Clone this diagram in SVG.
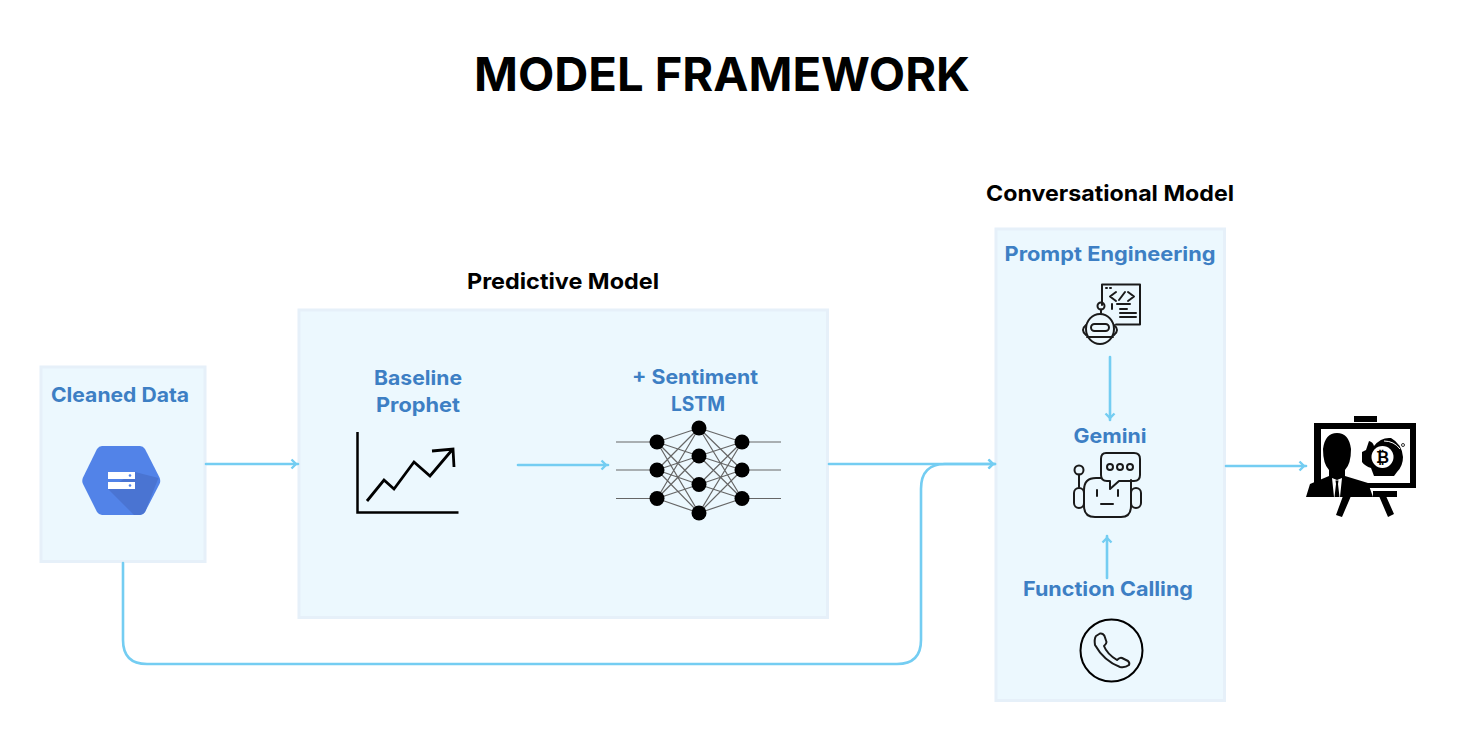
<svg xmlns="http://www.w3.org/2000/svg" width="1458" height="734" viewBox="0 0 1458 734">
<style>
text{font-family:Inter,"Liberation Sans",Arial,sans-serif;font-weight:700;text-anchor:middle}
.h{fill:#000;font-size:22px}
.l{fill:#3d7fc4;font-size:20px}
.box{fill:#ecf8fe;stroke:#e6f0f9;stroke-width:3}
.c{fill:none;stroke:#74cdf2;stroke-width:2.600;stroke-linecap:round;stroke-linejoin:round}
.i{fill:none;stroke:#1a1a1a;stroke-width:2;stroke-linecap:round;stroke-linejoin:round}
.n{stroke:#666;stroke-width:1.200}
</style>
<defs>
<marker id="a" markerUnits="userSpaceOnUse" markerWidth="14" markerHeight="12" refX="11.500" refY="6" orient="auto"><path d="M5 1.500L9.500 6L5 10.500" fill="none" stroke="#74cdf2" stroke-width="2.400"/></marker>
</defs>
<rect width="1458" height="734" fill="#fff"/>
<text id="title" x="722" y="91" font-size="47" fill="#000" textLength="496" lengthAdjust="spacingAndGlyphs">MODEL FRAMEWORK</text>

<g id="cleaned-data">
<rect class="box" x="41" y="367" width="164" height="194.500"/>
<text class="l" x="120" y="402" textLength="138" lengthAdjust="spacingAndGlyphs">Cleaned Data</text>
<path d="M102 446H140Q143 446 145 449L159.500 477.500Q161 481 159.500 484L145 512Q143 515 140 515H102Q99 515 97 512L83 484Q81.500 481 83 477.500L97 449Q99 446 102 446Z" fill="#5283e8"/>
<path d="M135 472L158.500 478L145 512Q143 515 140 515H134L108 489Z" fill="#4a74d2"/>
<rect x="108" y="472" width="27" height="7" fill="#fff"/>
<rect x="108" y="482" width="27" height="7" fill="#fff"/>
<circle cx="130" cy="475.500" r="1.300" fill="#5283e8"/>
<circle cx="130" cy="485.500" r="1.300" fill="#5283e8"/>
</g>

<g id="predictive-model">
<text class="h" x="563" y="289" textLength="192" lengthAdjust="spacingAndGlyphs">Predictive Model</text>
<rect class="box" x="299" y="310" width="528.500" height="307.500"/>
</g>

<g id="baseline-prophet">
<text class="l" x="418" y="385" textLength="88" lengthAdjust="spacingAndGlyphs">Baseline</text>
<text class="l" x="418" y="412" textLength="84" lengthAdjust="spacingAndGlyphs">Prophet</text>
<path d="M357.500 432V512.500H458.500" fill="none" stroke="#000" stroke-width="2.500"/>
<path d="M367 501L384 480L394 489L414 462L430 476L452 450M432 451L453 449L454 467" fill="none" stroke="#000" stroke-width="2.800"/>
</g>

<g id="sentiment-lstm">
<text class="l" x="695" y="384" textLength="126" lengthAdjust="spacingAndGlyphs">+ Sentiment</text>
<text class="l" x="698" y="411" textLength="54" lengthAdjust="spacingAndGlyphs">LSTM</text>
<g class="n">
<path d="M616 442H657M616 470H657M616 498.500H657M742 442H781M742 470H781M742 498.500H781"/>
<path d="M657 442L699 428M657 442L699 456M657 442L699 484.500M657 442L699 513M657 470L699 428M657 470L699 456M657 470L699 484.500M657 470L699 513M657 498.500L699 428M657 498.500L699 456M657 498.500L699 484.500M657 498.500L699 513M742 442L699 428M742 442L699 456M742 442L699 484.500M742 442L699 513M742 470L699 428M742 470L699 456M742 470L699 484.500M742 470L699 513M742 498.500L699 428M742 498.500L699 456M742 498.500L699 484.500M742 498.500L699 513"/>
</g>
<g fill="#000">
<circle cx="657" cy="442" r="7.500"/><circle cx="657" cy="470" r="7.500"/><circle cx="657" cy="498.500" r="7.500"/>
<circle cx="699" cy="428" r="7.500"/><circle cx="699" cy="456" r="7.500"/><circle cx="699" cy="484.500" r="7.500"/><circle cx="699" cy="513" r="7.500"/>
<circle cx="742" cy="442" r="7.500"/><circle cx="742" cy="470" r="7.500"/><circle cx="742" cy="498.500" r="7.500"/>
</g>
</g>

<g id="conversational-model">
<text class="h" x="1110" y="201" textLength="248" lengthAdjust="spacingAndGlyphs">Conversational Model</text>
<rect class="box" x="996" y="229" width="228.500" height="471.500"/>
</g>

<g id="prompt-engineering">
<text class="l" x="1110" y="261" textLength="211" lengthAdjust="spacingAndGlyphs">Prompt Engineering</text>
<path class="i" d="M1102 305V284.500H1140V324.500H1116"/>
<path class="i" stroke-width="1.600" d="M1106 288H1107M1110 288H1111M1116 292L1110 296.500L1116 301M1128 292L1134 296.500L1128 301M1119 300L1125 292M1112 304V309M1117 304H1130M1120 309H1127M1120 313H1136M1120 317H1136"/>
<circle class="i" cx="1101" cy="306" r="3.500"/>
<path class="i" d="M1101 309.500V313"/>
<ellipse class="i" cx="1100" cy="329" rx="14" ry="15"/>
<rect class="i" x="1091" y="324" width="18" height="7" rx="3.500"/>
<path class="i" d="M1086 325Q1080 330 1086 335M1114 325Q1120 330 1114 335M1087 337H1113"/>
</g>

<g id="gemini">
<text class="l" x="1110" y="443" textLength="73" lengthAdjust="spacingAndGlyphs">Gemini</text>
<circle class="i" cx="1079" cy="470" r="4.500"/>
<path class="i" d="M1079 474.500V487"/>
<rect class="i" x="1074" y="488" width="10" height="20" rx="5"/>
<rect class="i" x="1131" y="488" width="10" height="20" rx="5"/>
<path class="i" d="M1101 478H1096Q1084 478 1084 490V506Q1084 517 1095 517H1121Q1131 517 1131 506V480"/>
<path class="i" d="M1106 453H1134Q1140 453 1140 459V475Q1140 481 1134 481H1119L1110 489V481H1107Q1101 481 1101 475V459Q1101 453 1106 453Z" fill="#ecf8fe"/>
<circle class="i" cx="1110" cy="467" r="3"/><circle class="i" cx="1120" cy="467" r="3"/><circle class="i" cx="1130" cy="467" r="3"/>
<path class="i" d="M1097 490V496M1118 490V496M1101 504H1113"/>
</g>

<g id="function-calling">
<text class="l" x="1108" y="596" textLength="170" lengthAdjust="spacingAndGlyphs">Function Calling</text>
<circle cx="1111.500" cy="650.500" r="31" fill="none" stroke="#000" stroke-width="2"/>
<path class="i" d="M1096 636L1100 633.500Q1103 633 1104.500 636L1106.500 642Q1106.500 644 1104 646Q1107 654 1117 660Q1120 657 1122 658L1128 661Q1130 663 1129 665Q1125 668 1120 667Q1104 661 1095 645Q1094 639 1096 636Z"/>
</g>

<g id="presentation-icon" fill="#000">
<rect x="1354" y="416" width="23" height="6"/>
<path fill-rule="evenodd" d="M1314 423H1416V488H1314ZM1321 429V483H1410V429Z"/>
<rect x="1373" y="491" width="24" height="6"/>
<path d="M1343 496L1351 496L1342 517L1336 515ZM1379 496L1386 496L1394 514L1388 517Z"/>
<path d="M1337 433Q1349 433 1351 449Q1351 464 1345 470V476L1368 483L1373 497H1306L1310 484L1329 476V470Q1323 464 1323 449Q1325 433 1337 433Z"/>
<path d="M1332 478L1337 480L1342 478L1340 497H1334Z" fill="#fff"/>
<path d="M1335.500 480.500H1338.500L1338 484L1339.500 497H1334.500L1336 484Z"/>
<path d="M1369 441Q1373 442 1374 446Q1381 437 1391 438Q1402 444 1403 457Q1403 466 1397 472L1394 476H1374L1371 468Q1365 466 1362 462V452L1366 450Z"/>
<circle cx="1382.500" cy="457" r="11" fill="#fff"/>
<text x="1382.500" y="463" font-size="16" fill="#000" style="font-family:'DejaVu Sans',sans-serif">₿</text>
<path d="M1384 441Q1394 441 1400 449" fill="none" stroke="#fff" stroke-width="1"/>
<circle cx="1403" cy="445" r="1.500" fill="none" stroke="#000" stroke-width="0.800"/>
</g>

<g id="connectors">
<path class="c" marker-end="url(#a)" d="M206 464H298"/>
<path class="c" marker-end="url(#a)" d="M518 465H608"/>
<path class="c" marker-end="url(#a)" d="M829 464H995"/>
<path class="c" marker-end="url(#a)" d="M123 563V640Q123 664 147 664H897Q921 664 921 640V489Q921 464 945 464H995"/>
<path class="c" marker-end="url(#a)" d="M1110 357V420"/>
<path class="c" marker-end="url(#a)" d="M1107 578V536"/>
<path class="c" marker-end="url(#a)" d="M1226 466H1306"/>
</g>
</svg>
